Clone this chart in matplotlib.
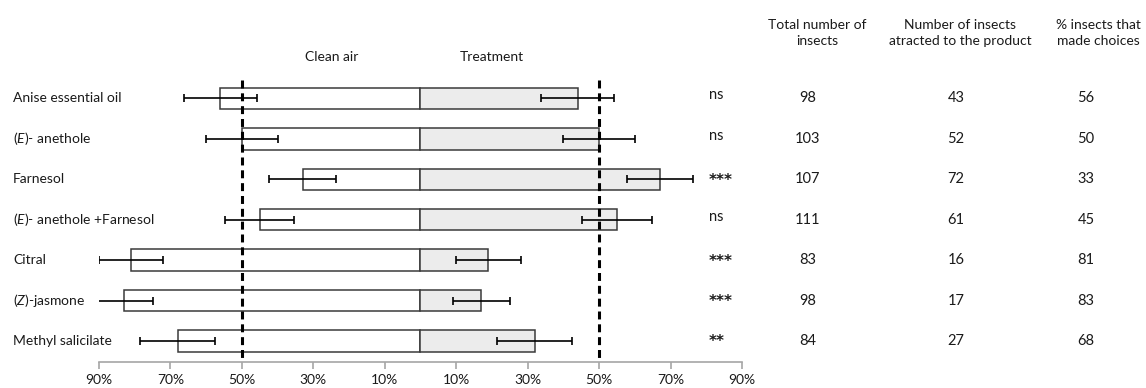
import matplotlib
matplotlib.use("Agg")
import matplotlib.pyplot as plt
import numpy as np

plt.rcParams["font.family"] = ["Lato", "DejaVu Sans"]
plt.rcParams["mathtext.fontset"] = "custom"
plt.rcParams["mathtext.rm"] = "Lato"
plt.rcParams["mathtext.it"] = "Lato:italic"

INK = "#1a1a1a"
EDGE = "#3a3a3a"

# ---- data ----
products = ["Anise essential oil", r"$\it{(E)}$- anethole", "Farnesol",
            r"$\it{(E)}$- anethole +Farnesol", "Citral", r"$\it{(Z)}$-jasmone",
            "Methyl salicilate"]
clean_air = [56, 50, 33, 45, 81, 83, 68]
treatment = [44, 50, 67, 55, 19, 17, 32]
err = [10.3, 10.0, 9.3, 9.7, 9.0, 8.0, 10.5]
signif = ["ns", "ns", "***", "ns", "***", "***", "**"]
total_insects = [98, 103, 107, 111, 83, 98, 84]
attracted = [43, 52, 72, 61, 16, 17, 27]
pct_choices = [56, 50, 33, 45, 81, 83, 68]
ticks = [-90, -70, -50, -30, -10, 10, 30, 50, 70, 90]
tick_labels = [f"{abs(t)}%" for t in ticks]

fig = plt.figure(figsize=(11.46, 3.88), dpi=100)
ax = fig.add_axes([99 / 1146, 1 - 362 / 388, 643 / 1146, (362 - 58) / 388])

y = np.arange(len(products))
ax.barh(y, [-v for v in clean_air], height=0.53, color="white", edgecolor=EDGE, linewidth=1.1, zorder=2)
ax.barh(y, treatment, height=0.53, color="#ececec", edgecolor=EDGE, linewidth=1.1, zorder=2)
ax.errorbar([-v for v in clean_air], y, xerr=err, fmt="none", ecolor="black",
            elinewidth=1.2, capsize=3, capthick=1.2, zorder=3)
ax.errorbar(treatment, y, xerr=err, fmt="none", ecolor="black",
            elinewidth=1.2, capsize=3, capthick=1.2, zorder=3)

# 50% reference lines
for xv in (-50, 50):
    ax.plot([xv, xv], [-0.45, len(products) - 0.48], color="black", lw=2.2,
            dashes=(2.6, 1.6), zorder=4, clip_on=False)

ax.set_xlim(-90, 90)
ax.set_ylim(len(products) - 0.48, -1.0)
ax.set_xticks(ticks)
ax.set_xticklabels(tick_labels, fontsize=10, color=INK)
ax.set_yticks([])
for s in ("top", "left", "right"):
    ax.spines[s].set_visible(False)
ax.spines["bottom"].set_color("#a6a6a6")
ax.spines["bottom"].set_linewidth(1.2)
ax.tick_params(axis="x", colors="#a6a6a6", length=5, width=1.2, labelcolor=INK, pad=4)

ax.text(-25, -1.02, "Clean air", ha="center", va="center", fontsize=10, color=INK)
ax.text(20, -1.02, "Treatment", ha="center", va="center", fontsize=10, color=INK)

# row labels, significance and table columns
for i, name in enumerate(products):
    fig_y = ax.transData.transform((0, i))[1]
    ax.annotate(name, xy=(13, fig_y), xycoords="figure pixels", ha="left", va="center",
                fontsize=10, color=INK)
    if "*" in signif[i]:
        ax.annotate(signif[i], xy=(709, fig_y - 1), xycoords="figure pixels", ha="left",
                    va="center", fontsize=11, color=INK, weight="bold",
                    family=["DejaVu Sans"])
    else:
        ax.annotate(signif[i], xy=(709, fig_y + 3), xycoords="figure pixels", ha="left",
                    va="center", fontsize=10.5, color=INK)
    ax.annotate(str(total_insects[i]), xy=(808, fig_y), xycoords="figure pixels",
                ha="center", va="center", fontsize=10.5, color=INK)
    ax.annotate(str(attracted[i]), xy=(956, fig_y), xycoords="figure pixels",
                ha="center", va="center", fontsize=10.5, color=INK)
    ax.annotate(str(pct_choices[i]), xy=(1086, fig_y), xycoords="figure pixels",
                ha="center", va="center", fontsize=10.5, color=INK)

headers = [("Total number of\ninsects", 817), ("Number of insects\natracted to the product", 960),
           ("% insects that\nmade choices", 1098)]
for txt, xp in headers:
    fig.text(xp / 1146, 1 - 33 / 388, txt, ha="center", va="center", fontsize=10,
             color=INK, linespacing=1.45)

fig.savefig("out.png", dpi=100)
